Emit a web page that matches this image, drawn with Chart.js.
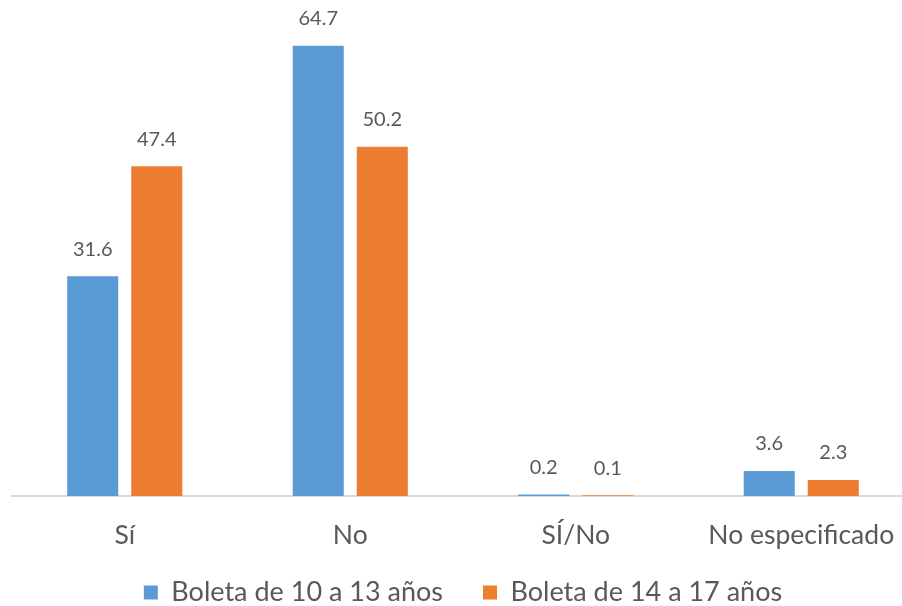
<!DOCTYPE html>
<html>
<head>
<meta charset="utf-8">
<script src="https://cdn.jsdelivr.net/npm/chart.js@4"></script>
<style>
  html, body { margin: 0; padding: 0; background: #fff; overflow: hidden; }
  #wrap { width: 914px; height: 606px; }
</style>
</head>
<body>
<div id="wrap"><canvas id="grafica"></canvas></div>
<script>
// datos
var categorias = ['Sí', 'No', 'SÍ/No', 'No especificado'];
var boleta10a13 = [31.6, 64.7, 0.2, 3.6];
var boleta14a17 = [47.4, 50.2, 0.1, 2.3];
var series = ['Boleta de 10 a 13 años', 'Boleta de 14 a 17 años'];

var fuente = 'Lato, "Open Sans", sans-serif';

// etiquetas de valor encima de cada barra
var etiquetas = {
    id: 'etiquetas',
    afterDatasetsDraw: function (chart) {
        var ctx = chart.ctx;
        ctx.save();
        ctx.font = '20px ' + fuente;
        ctx.fillStyle = '#595959';
        ctx.textAlign = 'center';
        ctx.textBaseline = 'middle';
        chart.data.datasets.forEach(function (ds, i) {
            chart.getDatasetMeta(i).data.forEach(function (bar, j) {
                ctx.fillText(ds.data[j].toFixed(1), bar.x, bar.y - 27);
            });
        });
        ctx.restore();
    }
};

var ctx = document.getElementById('grafica').getContext('2d');
var grafica = new Chart(ctx, {
    type: 'bar',
    data: {
        labels: categorias,
        datasets: [{
            label: series[0],
            data: boleta10a13,
            backgroundColor: '#5b9bd5',
            categoryPercentage: 0.568,
            barPercentage: 0.797
        }, {
            label: series[1],
            data: boleta14a17,
            backgroundColor: '#ed7d31',
            categoryPercentage: 0.568,
            barPercentage: 0.797
        }]
    },
    options: {
        responsive: true,
        maintainAspectRatio: false,
        animation: false,
        layout: { padding: { left: 12, right: 0, top: 9, bottom: -10 } },
        scales: {
            x: {
                grid: { display: false, drawTicks: false },
                border: { color: '#d9d9d9', width: 2 },
                ticks: {
                    color: '#595959',
                    font: { family: fuente, size: 26.5 },
                    mirror: true,   // evita el recorte de las etiquetas
                    padding: -55
                },
                afterFit: function (scale) { scale.height = 43; }
            },
            y: {
                display: false,
                min: 0,
                max: 70
            }
        },
        plugins: {
            legend: {
                position: 'bottom',
                labels: {
                    color: '#595959',
                    font: { family: fuente, size: 27 },
                    boxWidth: 14,
                    boxHeight: 14,
                    padding: 40
                }
            },
            tooltip: { enabled: false }
        }
    },
    plugins: [etiquetas]
});
</script>
</body>
</html>
